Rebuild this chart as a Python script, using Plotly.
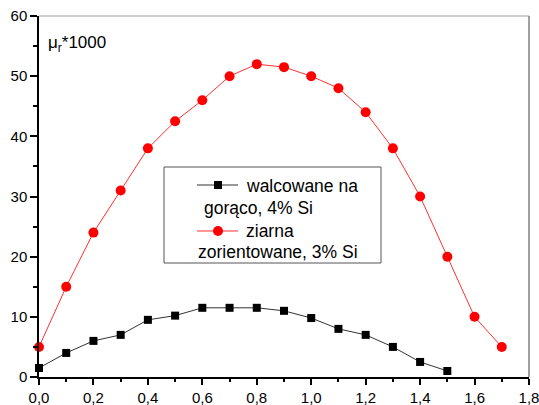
import plotly.graph_objects as go

# Relative permeability (x1000) of two electrical steel grades vs. induction
x_hot = [0.0, 0.1, 0.2, 0.3, 0.4, 0.5, 0.6, 0.7, 0.8, 0.9, 1.0, 1.1, 1.2, 1.3, 1.4, 1.5]
mu_hot = [1.5, 4, 6, 7, 9.5, 10.2, 11.5, 11.5, 11.5, 11, 9.8, 8, 7, 5, 2.5, 1]

x_gos = [0.0, 0.1, 0.2, 0.3, 0.4, 0.5, 0.6, 0.7, 0.8, 0.9, 1.0, 1.1, 1.2, 1.3, 1.4, 1.5, 1.6, 1.7]
mu_gos = [5, 15, 24, 31, 38, 42.5, 46, 50, 52, 51.5, 50, 48, 44, 38, 30, 20, 10, 5]

name_hot = ["walcowane na", "gorąco, 4% Si"]
name_gos = ["ziarna", "zorientowane, 3% Si"]
y_label = "μ<sub>r</sub>*1000"

x_ticks = [0.0, 0.2, 0.4, 0.6, 0.8, 1.0, 1.2, 1.4, 1.6, 1.8]
y_ticks = [0, 10, 20, 30, 40, 50, 60]

W, H = 539, 405
L, R, T, B = 39, 10, 16, 28
PW, PH = W - L - R, H - T - B
FONT = "Liberation Sans, Arial, sans-serif"


def px(xp):
    return (xp - L) / PW


def py(yp):
    return (H - B - yp) / PH


fig = go.Figure()
fig.add_trace(go.Scatter(
    x=x_hot, y=mu_hot, mode="lines+markers", cliponaxis=False,
    line=dict(color="#333333", width=1),
    marker=dict(symbol="square", size=8, color="black"),
    showlegend=False,
))
fig.add_trace(go.Scatter(
    x=x_gos, y=mu_gos, mode="lines+markers", cliponaxis=False,
    line=dict(color="#ff3030", width=1),
    marker=dict(symbol="circle", size=10, color="#ff0000"),
    showlegend=False,
))

axis_common = dict(
    showgrid=False, zeroline=False, showline=True, linecolor="black", linewidth=1.5,
    ticks="outside", tickcolor="black", tickwidth=1.5, automargin=False,
    ticklabeloverflow="allow",
    tickfont=dict(family=FONT, size=15, color="black"),
)
fig.update_xaxes(
    range=[0, 1.8], tickvals=x_ticks, ticktext=[f"{v:.1f}".replace(".", ",") for v in x_ticks],
    ticklen=6, minor=dict(dtick=0.1, ticks="outside", ticklen=3, tickcolor="black", tickwidth=1.5),
    **axis_common,
)
fig.update_yaxes(
    range=[0, 60], tickvals=y_ticks, ticklen=7,
    minor=dict(dtick=5, ticks="outside", ticklen=4, tickcolor="black", tickwidth=1.5),
    **axis_common,
)

shapes = [
    # top and right frame lines
    dict(type="line", xref="paper", yref="paper", x0=0, x1=1, y0=1, y1=1,
         line=dict(color="#bdbdbd", width=1.5)),
    dict(type="line", xref="paper", yref="paper", x0=1, x1=1, y0=0, y1=1,
         line=dict(color="#808080", width=1.5)),
    # legend box
    dict(type="rect", xref="paper", yref="paper", x0=px(164), x1=px(381), y0=py(263), y1=py(167),
         line=dict(color="#555555", width=1), fillcolor="white"),
    # legend symbols
    dict(type="line", xref="paper", yref="paper", x0=px(197), x1=px(238), y0=py(185), y1=py(185),
         line=dict(color="#333333", width=1)),
    dict(type="rect", xref="paper", yref="paper", x0=px(214), x1=px(222), y0=py(189), y1=py(181),
         line=dict(width=0), fillcolor="black"),
    dict(type="line", xref="paper", yref="paper", x0=px(197), x1=px(238), y0=py(231), y1=py(231),
         line=dict(color="#ff3030", width=1)),
    dict(type="circle", xref="paper", yref="paper", x0=px(213), x1=px(223), y0=py(236), y1=py(226),
         line=dict(width=0), fillcolor="#ff0000"),
]

annotations = [
    dict(text=y_label, xref="paper", yref="paper", x=px(46), y=py(44), xanchor="left", yanchor="middle",
         showarrow=False, font=dict(family=FONT, size=17, color="black")),
    dict(text=name_hot[0], xref="paper", yref="paper", x=px(244), y=py(186), xanchor="left", yanchor="middle",
         showarrow=False, font=dict(family=FONT, size=17.5, color="black")),
    dict(text=name_hot[1], xref="paper", yref="paper", x=px(202), y=py(208), xanchor="left", yanchor="middle",
         showarrow=False, font=dict(family=FONT, size=17.5, color="black")),
    dict(text=name_gos[0], xref="paper", yref="paper", x=px(244), y=py(231), xanchor="left", yanchor="middle",
         showarrow=False, font=dict(family=FONT, size=17.5, color="black")),
    dict(text=name_gos[1], xref="paper", yref="paper", x=px(196), y=py(252), xanchor="left", yanchor="middle",
         showarrow=False, font=dict(family=FONT, size=17.5, color="black")),
]

fig.update_layout(
    width=W, height=H,
    margin=dict(l=L, r=R, t=T, b=B, pad=0, autoexpand=False),
    paper_bgcolor="white", plot_bgcolor="white",
    font=dict(family=FONT, color="black"),
    shapes=shapes, annotations=annotations,
)

fig.write_html("out.html")
